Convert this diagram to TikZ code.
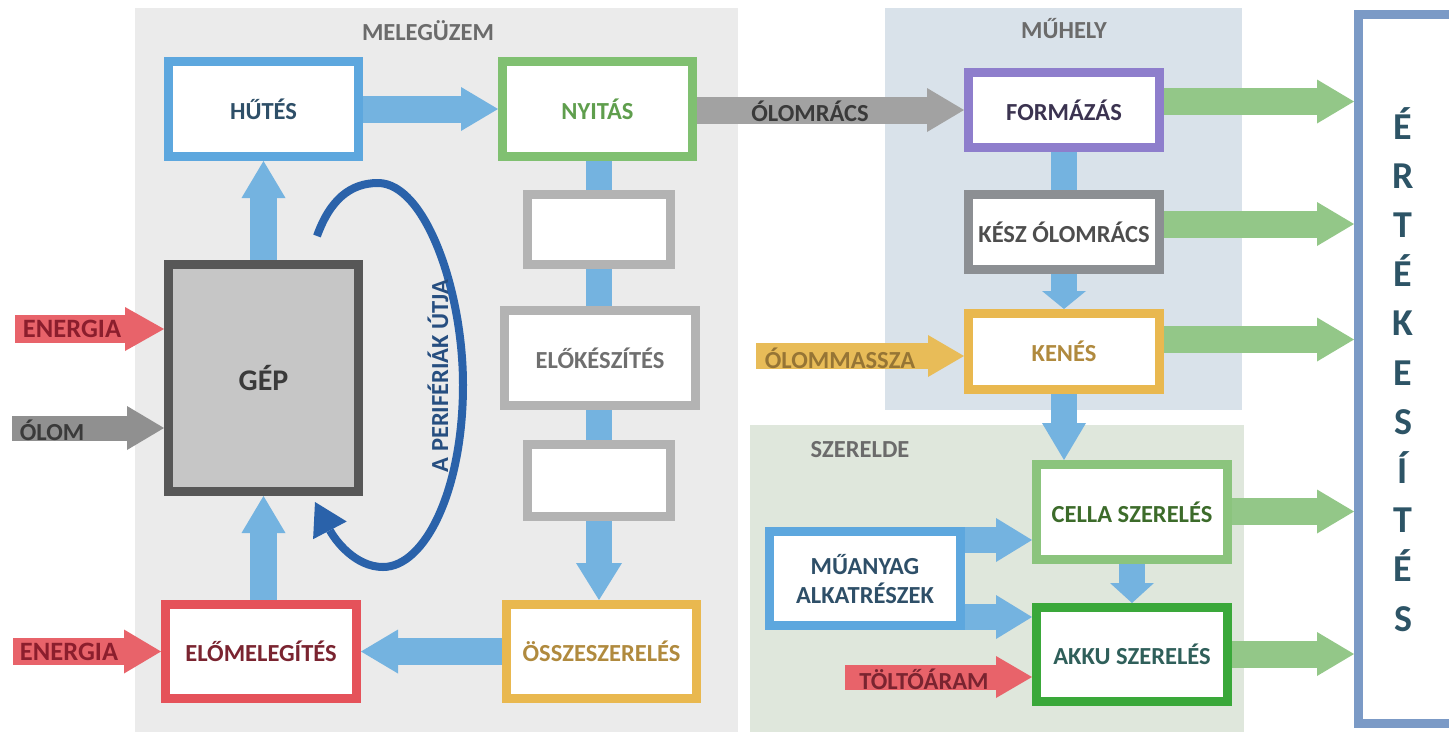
\documentclass[tikz,border=0pt]{standalone}
\usepackage{fontspec}
\setmainfont{Carlito}
\usetikzlibrary{arrows.meta}
\pgfdeclarelayer{bg}\pgfdeclarelayer{arr}\pgfsetlayers{bg,arr,main}
\definecolor{bgmel}{HTML}{EBEBEB}
\definecolor{bgmuh}{HTML}{D9E2EA}
\definecolor{bgsze}{HTML}{DFE7DC}
\definecolor{cblue}{HTML}{74B3E0}
\definecolor{cred}{HTML}{E8636A}
\definecolor{cgray}{HTML}{909090}
\definecolor{cgray2}{HTML}{A2A2A2}
\definecolor{cgold}{HTML}{E8BC58}
\definecolor{cgreen}{HTML}{93C788}
\definecolor{cdblue}{HTML}{2A62AA}
\definecolor{bhut}{HTML}{5DA7DE}
\definecolor{bnyi}{HTML}{80C071}
\definecolor{bgep}{HTML}{575757}
\definecolor{fgep}{HTML}{C6C6C6}
\definecolor{bgry}{HTML}{B3B3B3}
\definecolor{belo}{HTML}{E5525A}
\definecolor{bgold}{HTML}{E9B84F}
\definecolor{bform}{HTML}{8E7ECC}
\definecolor{bkesz}{HTML}{8C8F93}
\definecolor{bcella}{HTML}{8BC47D}
\definecolor{bakku}{HTML}{3AA83A}
\definecolor{bert}{HTML}{7B9AC6}
\definecolor{tteal}{HTML}{2E4F68}
\definecolor{tgreen}{HTML}{5F9E4D}
\definecolor{tgray}{HTML}{6F6F6F}
\definecolor{tdark}{HTML}{3A3A3A}
\definecolor{tmaroon}{HTML}{7A2430}
\definecolor{tred}{HTML}{8B1E2D}
\definecolor{tgold}{HTML}{B08A3E}
\definecolor{tform}{HTML}{3B3350}
\definecolor{tcella}{HTML}{3C6B2A}
\definecolor{takku}{HTML}{2F5F5A}
\definecolor{tert}{HTML}{2D5466}
\definecolor{tperi}{HTML}{264E80}
\definecolor{tregion}{HTML}{6B6B6B}
\newcommand\lblfont{\fontsize{24.5}{29}\selectfont\bfseries}
\begin{document}
\begin{tikzpicture}[x=1pt,y=-1pt,
  box/.style={draw, line width=9pt, fill=white, inner sep=0pt, font=\lblfont, align=center},
  blk/.style={line width=27pt, -{Triangle[length=37pt,width=44pt,line width=0pt]}},
  blkshort/.style={line width=26pt, -{Triangle[length=18pt,width=44pt,line width=0pt]}},
  lbl/.style={font=\lblfont, inner sep=0pt}
]
\useasboundingbox (0,0) rectangle (1449,732);
% regions
\begin{pgfonlayer}{bg}
\fill[bgmel] (135,8) rectangle (738,732);
\fill[bgmuh] (885,8) rectangle (1242,410);
\fill[bgsze] (750,425) rectangle (1244,732);
\end{pgfonlayer}
\node[lbl, text=tregion] (tmel) at (428,31) {MELEGÜZEM};
\node[lbl, text=tregion] (tmuh) at (1064,29) {MŰHELY};
\node[lbl, text=tregion] (tsze) at (860,450) {SZERELDE};
% boxes
\node[box, draw=bhut, text=tteal, minimum width=190pt, minimum height=95pt] (hut) at (263.5,109) {HŰTÉS};
\node[box, draw=bnyi, text=tgreen, minimum width=190pt, minimum height=95pt] (nyi) at (597.5,109) {NYITÁS};
\node[box, draw=bgep, fill=fgep, text=tdark, minimum width=190pt, minimum height=227pt, font=\fontsize{30}{36}\selectfont\bfseries] (gep) at (263.5,378) {GÉP};
\node[box, draw=bgry, minimum width=143pt, minimum height=70pt] (g1) at (599,229.5) {};
\node[box, draw=bgry, text=tgray, minimum width=191pt, minimum height=95pt] (elok) at (600,358) {ELŐKÉSZÍTÉS};
\node[box, draw=bgry, minimum width=143pt, minimum height=72pt] (g3) at (599,480.5) {};
\node[box, draw=belo, text=tmaroon, minimum width=191pt, minimum height=94pt] (elo) at (261,651.5) {ELŐMELEGÍTÉS};
\node[box, draw=bgold, text=tgold, minimum width=190pt, minimum height=94pt] (oss) at (601.5,651.5) {ÖSSZESZERELÉS};
\node[box, draw=bform, text=tform, minimum width=191pt, minimum height=75pt] (form) at (1064,110) {FORMÁZÁS};
\node[box, draw=bkesz, text=tdark!90, minimum width=191pt, minimum height=75pt] (kesz) at (1064,232) {KÉSZ ÓLOMRÁCS};
\node[box, draw=bgold, text=tgold, minimum width=191pt, minimum height=76pt] (kenes) at (1064,351.5) {KENÉS};
\node[box, draw=bcella, text=tcella, minimum width=191pt, minimum height=95pt] (cella) at (1132,512) {CELLA SZERELÉS};
\node[box, draw=bakku, text=takku, minimum width=191pt, minimum height=94pt] (akku) at (1132,654.5) {AKKU SZERELÉS};
\node[box, draw=bhut, text=tteal, minimum width=191pt, minimum height=94pt] (mua) at (865,578.5) {MŰANYAG\\ALKATRÉSZEK};
\node[box, draw=bert, minimum width=107pt, minimum height=709pt] (ert) at (1412,369) {};
\foreach \l [count=\i from 0] in {É,R,T,É,K,E,S,Í,T,É,S}
  \node[anchor=base, inner sep=0pt, text=tert, font=\fontsize{38}{44}\selectfont\bfseries] (ertl\i) at (1403,{139+49.2*\i}) {\l};
% free ends
\coordinate (e1) at (15,329);
\coordinate (o1) at (12,428);
\coordinate (e2) at (13,651.5);
\coordinate (om) at (756,356);
\coordinate (tl) at (845,677);
\coordinate (m1) at (0,540);
\coordinate (m2) at (0,617);
% arrows
\begin{pgfonlayer}{arr}
\draw[blk, draw=cblue] (hut.east) -- (nyi.west);
\draw[blk, draw=cblue] (gep.north) -- (hut.south);
\draw[blk, draw=cblue] (gep.south |- elo.north) -- (gep.south);
\draw[blk, draw=cblue, line width=26pt, -{Triangle[length=37pt,width=46pt,line width=0pt]}] (g1.north |- nyi.south) -- (g1.south |- oss.north);
\draw[blk, draw=cblue] (oss.west) -- (elo.east);
\draw[blk, draw=cred, line width=28pt, -{Triangle[length=39pt,width=44pt,line width=0pt]}] (e1) -- (gep.west |- e1);
\draw[blk, draw=cgray, line width=25pt] (o1) -- (gep.west |- o1);
\draw[blk, draw=cred] (e2) -- (elo.west |- e2);
\draw[blk, draw=cgray2] (nyi.east |- form.west) -- (form.west);
\draw[draw=cblue, line width=26pt] (form.south) -- (kesz.north);
\draw[blkshort, draw=cblue] (kesz.south) -- (kenes.north);
\draw[blk, draw=cblue, line width=26pt] (kenes.south) -- (kenes.south |- cella.north);
\draw[blkshort, draw=cblue, -{Triangle[length=20pt,width=44pt,line width=0pt]}] (cella.south) -- (akku.north);
\draw[blk, draw=cblue, line width=26pt, -{Triangle[length=36pt,width=44pt,line width=0pt]}] (mua.east |- m1) -- (cella.west |- m1);
\draw[blk, draw=cblue, line width=26pt, -{Triangle[length=36pt,width=44pt,line width=0pt]}] (mua.east |- m2) -- (akku.west |- m2);
\draw[blk, draw=cred, line width=25pt, -{Triangle[length=36pt,width=42pt,line width=0pt]}] (tl) -- (akku.west |- tl);
\draw[blk, draw=cgold, line width=26pt, -{Triangle[length=36pt,width=42pt,line width=0pt]}] (om) -- (kenes.west |- om);
\coordinate (g1y) at (0,101.5);
\coordinate (g2y) at (0,224);
\coordinate (g3y) at (0,339.5);
\coordinate (g4y) at (0,511.5);
\coordinate (g5y) at (0,654);
\draw[blk, draw=cgreen] (form.east |- g1y) -- (ert.west |- g1y);
\draw[blk, draw=cgreen] (kesz.east |- g2y) -- (ert.west |- g2y);
\draw[blk, draw=cgreen] (kenes.east |- g3y) -- (ert.west |- g3y);
\draw[blk, draw=cgreen] (cella.east |- g4y) -- (ert.west |- g4y);
\draw[blk, draw=cgreen] (akku.east |- g5y) -- (ert.west |- g5y);
\end{pgfonlayer}
% arrow labels
\node[lbl, text=tred, font=\fontsize{26.5}{31}\selectfont\bfseries] (tenergia1) at (72,329) {ENERGIA};
\node[lbl, text=tdark] (tolom) at (52,430) {ÓLOM};
\node[lbl, text=tred, font=\fontsize{26.5}{31}\selectfont\bfseries] (tenergia2) at (69,652) {ENERGIA};
\node[lbl, text=tdark] (tolomracs) at (810,111) {ÓLOMRÁCS};
\node[lbl, text=tgold!85!black] (tolommassza) at (840,358) {ÓLOMMASSZA};
\node[lbl, text=tmaroon] (ttoltoaram) at (924,679) {TÖLTŐÁRAM};
% periphery loop
\draw[line width=8pt, draw=cdblue, -{Triangle[length=32pt,width=38pt,line width=0pt]}]
  (317,236) .. controls (330,200) and (350,183) .. (378,183)
  .. controls (425,183) and (463,290) .. (463,385)
  .. controls (463,490) and (425,567) .. (383,567)
  .. controls (355,567) and (335,540) .. (315,502);
\node[lbl, text=tperi, rotate=90] (tperiferia) at (438,376) {A PERIFÉRIÁK ÚTJA};
\end{tikzpicture}
\end{document}
